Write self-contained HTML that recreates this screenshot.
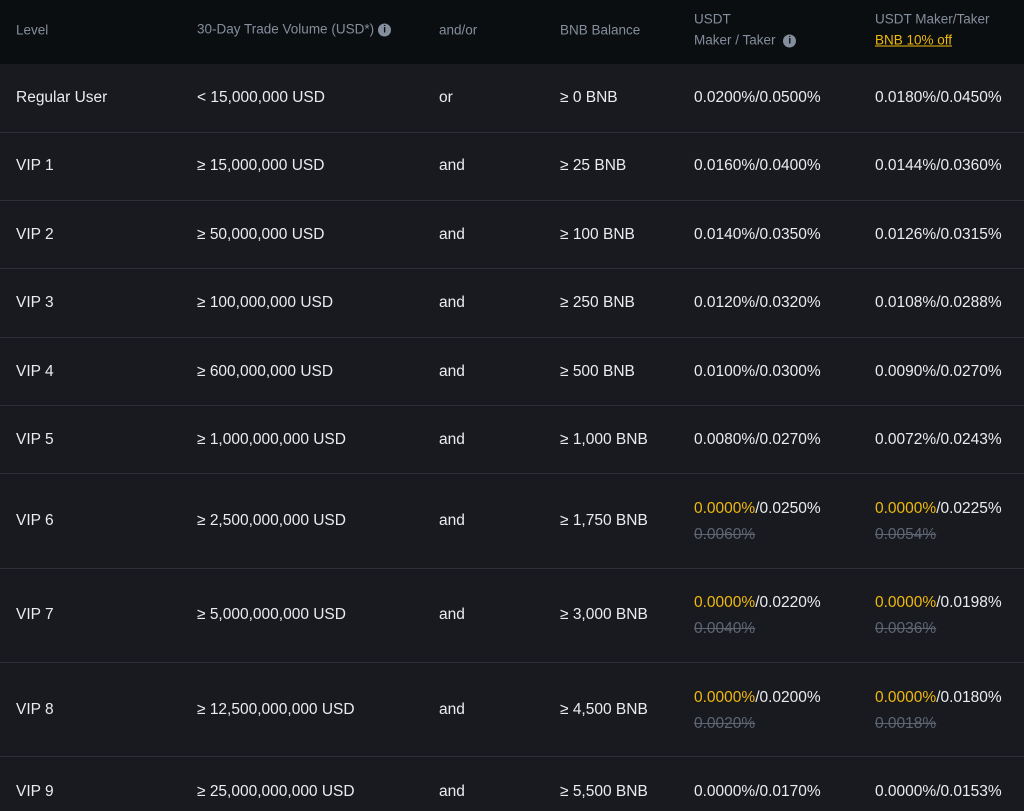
<!DOCTYPE html>
<html><head><style>
body{margin:0;width:1024px;height:811px;overflow:hidden;background:#181a20;font-family:"Liberation Sans",sans-serif;position:relative}
.h{position:absolute;left:0;top:0;width:1024px;height:64px;background:#0b0e11}
.t{position:absolute;white-space:nowrap;transform:translateY(-50%)}
.hd{color:#848e9c;font-size:13.5px}
.b{color:#eaecef;font-size:15.5px}
.y{color:#f0b90b}
.s{color:#5e6673;text-decoration:line-through;font-size:15.5px}
.l{position:absolute;left:0;width:1024px;height:1px;background:#2b2f36}
.i{display:inline-block;width:13px;height:13px;border-radius:50%;background:#848e9c;color:#0b0e11;font-size:10px;text-align:center;line-height:13px;font-weight:bold;vertical-align:1px;margin-left:4px}
</style></head><body>
<div class="h"></div>
<div class="t hd" style="left:16px;top:30px">Level</div>
<div class="t hd" style="left:197px;top:29px">30-Day Trade Volume (USD*)<span class="i">i</span></div>
<div class="t hd" style="left:439px;top:30px">and/or</div>
<div class="t hd" style="left:560px;top:30px">BNB Balance</div>
<div class="t hd" style="left:694px;top:19px">USDT</div>
<div class="t hd" style="left:694px;top:40px">Maker / Taker <span class="i">i</span></div>
<div class="t hd" style="left:875px;top:19px">USDT Maker/Taker</div>
<div class="t hd y" style="left:875px;top:40px;text-decoration:underline">BNB 10% off</div>
<div id="rows"></div>
<script>
var R=[["Regular User","< 15,000,000 USD","or","≥ 0 BNB","0.0200%/0.0500%","0.0180%/0.0450%"],
["VIP 1","≥ 15,000,000 USD","and","≥ 25 BNB","0.0160%/0.0400%","0.0144%/0.0360%"],
["VIP 2","≥ 50,000,000 USD","and","≥ 100 BNB","0.0140%/0.0350%","0.0126%/0.0315%"],
["VIP 3","≥ 100,000,000 USD","and","≥ 250 BNB","0.0120%/0.0320%","0.0108%/0.0288%"],
["VIP 4","≥ 600,000,000 USD","and","≥ 500 BNB","0.0100%/0.0300%","0.0090%/0.0270%"],
["VIP 5","≥ 1,000,000,000 USD","and","≥ 1,000 BNB","0.0080%/0.0270%","0.0072%/0.0243%"],
["VIP 6","≥ 2,500,000,000 USD","and","≥ 1,750 BNB","0.0250%","0.0225%","0.0060%","0.0054%"],
["VIP 7","≥ 5,000,000,000 USD","and","≥ 3,000 BNB","0.0220%","0.0198%","0.0040%","0.0036%"],
["VIP 8","≥ 12,500,000,000 USD","and","≥ 4,500 BNB","0.0200%","0.0180%","0.0020%","0.0018%"],
["VIP 9","≥ 25,000,000,000 USD","and","≥ 5,500 BNB","0.0000%/0.0170%","0.0000%/0.0153%"]];
var C=[98,166,235,303,372,440,521,615,710,792];
var L=[132,200,268,337,405,473,568,662,756];
var X=[16,197,439,560,694,875],h="";
L.forEach(function(y){h+='<div class="l" style="top:'+y+'px"></div>'});
R.forEach(function(r,i){var y=C[i];
for(var k=0;k<4;k++)h+='<div class="t b" style="left:'+X[k]+'px;top:'+y+'px">'+r[k]+'</div>';
if(r.length>6){
h+='<div class="t b" style="left:694px;top:'+(y-12)+'px"><span class="y">0.0000%</span>/'+r[4]+'</div>';
h+='<div class="t b" style="left:875px;top:'+(y-12)+'px"><span class="y">0.0000%</span>/'+r[5]+'</div>';
h+='<div class="t s" style="left:694px;top:'+(y+14)+'px">'+r[6]+'</div>';
h+='<div class="t s" style="left:875px;top:'+(y+14)+'px">'+r[7]+'</div>';
}else{
h+='<div class="t b" style="left:694px;top:'+y+'px">'+r[4]+'</div>';
h+='<div class="t b" style="left:875px;top:'+y+'px">'+r[5]+'</div>';}
});
document.getElementById('rows').innerHTML=h;
</script>
</body></html>
